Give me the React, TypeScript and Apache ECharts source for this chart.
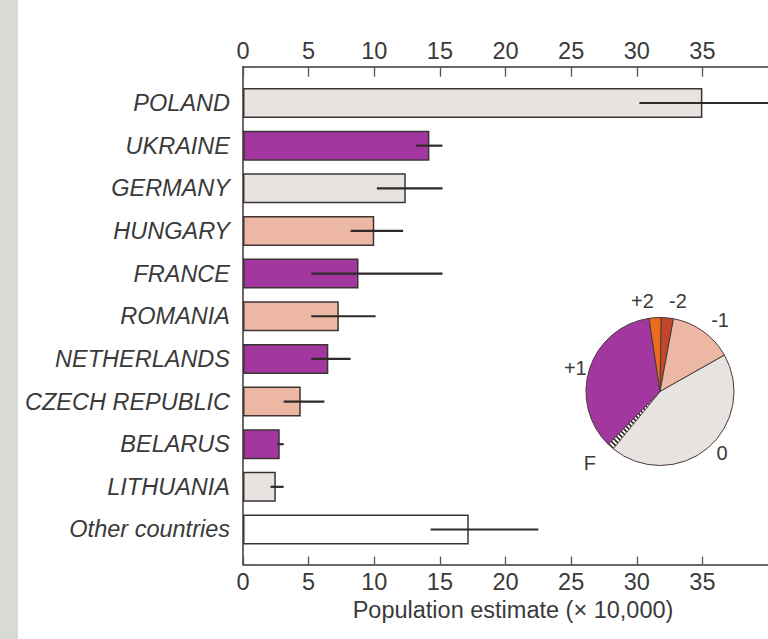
import React, { useEffect, useRef } from "react";
import * as echarts from "echarts";

const categories = [
  "POLAND",
  "UKRAINE",
  "GERMANY",
  "HUNGARY",
  "FRANCE",
  "ROMANIA",
  "NETHERLANDS",
  "CZECH REPUBLIC",
  "BELARUS",
  "LITHUANIA",
  "Other countries",
];
const estimates = [35.0, 14.2, 12.4, 10.0, 8.8, 7.3, 6.5, 4.4, 2.8, 2.5, 17.2];
const errorLow = [30.2, 13.2, 10.2, 8.2, 5.2, 5.2, 5.2, 3.1, 2.6, 2.1, 14.3];
const errorHigh = [41, 15.2, 15.2, 12.2, 15.2, 10.1, 8.2, 6.2, 3.1, 3.1, 22.5];
const trendGroup = ["0", "+1", "0", "-1", "+1", "-1", "+1", "-1", "+1", "0", "none"];

const xTicks = [0, 5, 10, 15, 20, 25, 30, 35];

const pieLabels = ["-2", "-1", "0", "F", "+1", "+2"];
const pieShares = [2.7, 13.9, 44.1, 1.4, 35.3, 2.6];

const groupColors: Record<string, string> = {
  "-2": "#c4462a",
  "-1": "#ecb8a3",
  "0": "#e7e3e0",
  F: "#ffffff",
  "+1": "#a2379f",
  "+2": "#ec6a1e",
  none: "#ffffff",
};

// label placement style for the pie labels (line length / gap)
const pieLabelStyle: Record<string, { len: number; gap: number }> = {
  "-2": { len: 17, gap: 0 },
  "-1": { len: 14, gap: 0 },
  "0": { len: 6, gap: 5 },
  F: { len: 22, gap: 0 },
  "+1": { len: 3, gap: 0 },
  "+2": { len: 17, gap: 0 },
};

const FONT = "'Liberation Sans', Arial, sans-serif";
const TEXT = "#3a3a3a";
const LINE = "#3c3434";
const FS = 23.5;

function makeHatch(): any {
  const c = document.createElement("canvas");
  c.width = 5;
  c.height = 5;
  const ctx = c.getContext("2d");
  if (ctx) {
    ctx.fillStyle = "#ffffff";
    ctx.fillRect(0, 0, 5, 5);
    ctx.strokeStyle = "#2e2828";
    ctx.lineWidth = 1.6;
    ctx.beginPath();
    ctx.moveTo(-1, -1);
    ctx.lineTo(6, 6);
    ctx.moveTo(-1, 4);
    ctx.lineTo(1, 6);
    ctx.moveTo(4, -1);
    ctx.lineTo(6, 1);
    ctx.stroke();
  }
  return { image: c, repeat: "repeat" };
}

export default function App() {
  const ref = useRef<HTMLDivElement>(null);

  useEffect(() => {
    if (!ref.current) return;
    const chart = echarts.init(ref.current, null, { renderer: "svg" });

    const barData = estimates.map((v, i) => ({
      value: v,
      itemStyle: { color: groupColors[trendGroup[i]] },
    }));
    const errData = errorLow.map((lo, i) => [lo, errorHigh[i], i]);

    const tickFormatter = (v: number) => (xTicks.indexOf(v) >= 0 ? String(v) : "");
    const hatch = makeHatch();

    chart.setOption({
      animation: false,
      backgroundColor: "#ffffff",
      textStyle: { fontFamily: FONT },
      graphic: [
        {
          type: "rect",
          left: 0,
          top: 0,
          shape: { width: 18, height: 639 },
          style: { fill: "#d9d9d6" },
          silent: true,
        },
      ],
      grid: [
        { left: 243, right: 0, top: 66.7, bottom: 74.5, containLabel: false },
        { left: 243, right: 0, top: 81.7, bottom: 88.2, containLabel: false },
      ],
      xAxis: [
        {
          gridIndex: 0,
          type: "value",
          position: "top",
          min: 0,
          max: 40,
          interval: 5,
          axisLine: { show: true, onZero: false, lineStyle: { color: LINE, width: 1.5 } },
          axisTick: { show: true, inside: true, length: 10, lineStyle: { color: "#555", width: 1.3 } },
          axisLabel: {
            show: true,
            margin: 4,
            fontSize: FS,
            color: TEXT,
            fontFamily: FONT,
            showMaxLabel: false,
            formatter: tickFormatter,
          },
          splitLine: { show: false },
        },
        {
          gridIndex: 0,
          type: "value",
          position: "bottom",
          min: 0,
          max: 40,
          interval: 5,
          axisLine: { show: true, onZero: false, lineStyle: { color: LINE, width: 1.5 } },
          axisTick: { show: true, inside: true, length: 8, lineStyle: { color: "#555", width: 1.3 } },
          axisLabel: {
            show: true,
            margin: 5,
            fontSize: FS,
            color: TEXT,
            fontFamily: FONT,
            showMaxLabel: false,
            formatter: tickFormatter,
          },
          splitLine: { show: false },
          name: "Population estimate (× 10,000)",
          nameLocation: "middle",
          nameGap: 29,
          nameTextStyle: {
            fontSize: FS,
            color: TEXT,
            fontFamily: FONT,
            padding: [0, 0, 0, 15],
          },
        },
        {
          gridIndex: 1,
          type: "value",
          min: 0,
          max: 40,
          show: false,
        },
      ],
      yAxis: [
        {
          gridIndex: 0,
          type: "value",
          min: 0,
          max: 1,
          axisLine: { show: true, onZero: false, lineStyle: { color: LINE, width: 1.5 } },
          axisTick: { show: false },
          axisLabel: { show: false },
          splitLine: { show: false },
        },
        {
          gridIndex: 1,
          type: "category",
          data: categories,
          inverse: true,
          axisLine: { show: false },
          axisTick: { show: false },
          axisLabel: {
            margin: 13,
            fontSize: FS,
            fontStyle: "italic",
            color: TEXT,
            fontFamily: FONT,
          },
          splitLine: { show: false },
        },
      ],
      series: [
        {
          type: "bar",
          xAxisIndex: 2,
          yAxisIndex: 1,
          data: barData,
          barWidth: 30,
          itemStyle: { borderColor: LINE, borderWidth: 1.5 },
        },
        {
          type: "custom",
          xAxisIndex: 2,
          yAxisIndex: 1,
          data: errData,
          encode: { x: [0, 1], y: 2 },
          renderItem: (params: any, api: any) => {
            const p1 = api.coord([api.value(0), api.value(2)]);
            const p2 = api.coord([api.value(1), api.value(2)]);
            return {
              type: "line",
              shape: { x1: p1[0], y1: p1[1], x2: p2[0], y2: p2[1] },
              style: { stroke: "#2e2a2a", lineWidth: 2.2 },
            };
          },
          z: 5,
        },
        {
          type: "pie",
          center: [660, 391.5],
          radius: 74,
          startAngle: 89.2,
          clockwise: true,
          avoidLabelOverlap: false,
          itemStyle: { borderColor: "#4a3a3a", borderWidth: 1 },
          label: {
            show: true,
            position: "outside",
            fontSize: 20,
            color: TEXT,
            fontFamily: FONT,
            formatter: "{b}",
          },
          labelLine: { show: false, length: 6, length2: 0 },
          data: pieLabels.map((name, i) => ({
            name,
            value: pieShares[i],
            label: { distanceToLabelLine: pieLabelStyle[name].gap },
            labelLine: { show: false, length: pieLabelStyle[name].len, length2: 0 },
            itemStyle:
              name === "F"
                ? { color: hatch, borderWidth: 0.5 }
                : { color: groupColors[name] },
          })),
        },
      ],
    });

    return () => chart.dispose();
  }, []);

  return (
    <div
      ref={ref}
      style={{ position: "fixed", left: 0, top: 0, width: 768, height: 639 }}
    />
  );
}
